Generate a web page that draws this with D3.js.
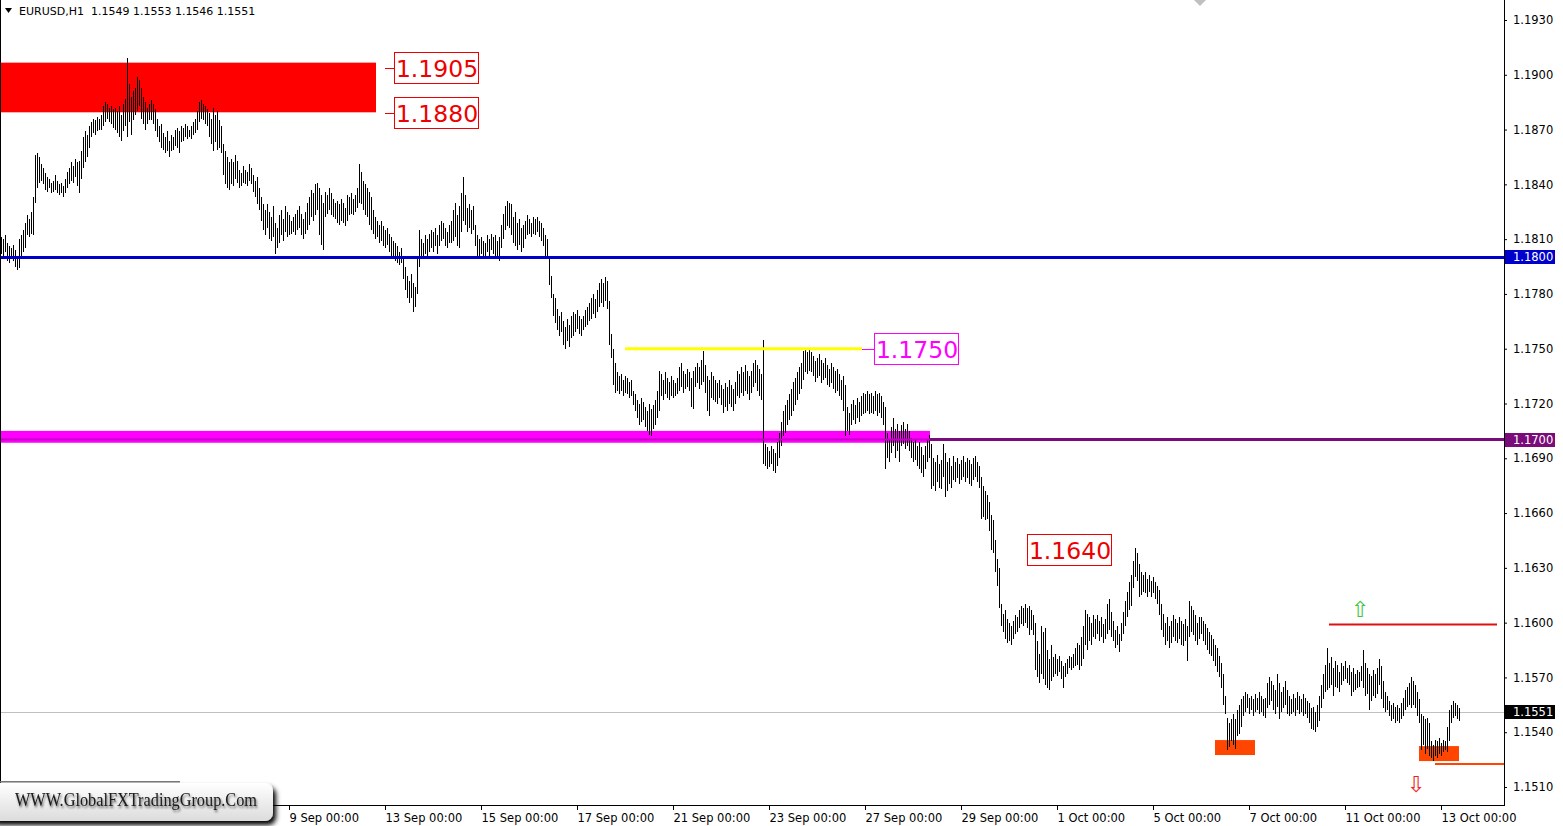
<!DOCTYPE html>
<html><head><meta charset="utf-8">
<script src="https://cdn.jsdelivr.net/npm/d3@7"></script>
<style>
html,body{margin:0;padding:0;background:#fff;overflow:hidden}
svg{display:block}
</style></head><body>
<svg id="c" width="1563" height="826"></svg>
<script>
// ---------------- DATA ----------------
const symbolTitle = "EURUSD,H1";
const lastOHLC = [1.1549, 1.1553, 1.1546, 1.1551];
const dateLabels = ["9 Sep 00:00","13 Sep 00:00","15 Sep 00:00","17 Sep 00:00","21 Sep 00:00","23 Sep 00:00","27 Sep 00:00","29 Sep 00:00","1 Oct 00:00","5 Oct 00:00","7 Oct 00:00","11 Oct 00:00","13 Oct 00:00"];
const firstLabelBar = 144;
const barsPerLabel = 48;
const priceTicks = [1.1510,1.1540,1.1570,1.1600,1.1630,1.1660,1.1690,1.1720,1.1750,1.1780,1.1810,1.1840,1.1870,1.1900,1.1930];
const resistanceZone = [1.1880, 1.1905];
const blueLevel = 1.1800;
const yellowLevel = 1.1750;
const purpleLevel = 1.1700;
const magentaZone = [1.16985, 1.17050];
const tag1640 = 1.1640;
const upperTrigger = 1.1599;
const lowerTrigger = 1.15226;
const orangeZone1 = [1.15275, 1.15357];
const orangeZone2 = [1.15242, 1.15324];
const tagTexts = ["1.1905","1.1880","1.1750","1.1640"];
const watermark = "WWW.GlobalFXTradingGroup.Com";
// hourly bars [high, low]
const hourlyHighLow = [
[1.1811,1.1802],[1.1810,1.1800],[1.1812,1.1803],[1.1808,1.1798],[1.1806,1.1797],
[1.1805,1.1799],[1.1807,1.1798],[1.1804,1.1795],[1.1800,1.1793],[1.1810,1.1794],
[1.1812,1.1799],[1.1815,1.1803],[1.1819,1.1805],[1.1823,1.1812],[1.1821,1.1811],
[1.1825,1.1813],[1.1833,1.1812],[1.1856,1.1830],[1.1857,1.1838],[1.1855,1.1841],
[1.1851,1.1842],[1.1849,1.1840],[1.1846,1.1837],[1.1844,1.1836],[1.1843,1.1838],
[1.1841,1.1835],[1.1842,1.1836],[1.1845,1.1837],[1.1842,1.1835],[1.1840,1.1834],
[1.1841,1.1835],[1.1839,1.1833],[1.1843,1.1835],[1.1847,1.1838],[1.1849,1.1840],
[1.1852,1.1842],[1.1850,1.1841],[1.1854,1.1844],[1.1852,1.1839],[1.1853,1.1835],
[1.1858,1.1843],[1.1866,1.1849],[1.1869,1.1852],[1.1867,1.1855],[1.1872,1.1860],
[1.1874,1.1866],[1.1876,1.1868],[1.1875,1.1867],[1.1877,1.1869],[1.1876,1.1870],
[1.1878,1.1870],[1.1883,1.1872],[1.1885,1.1874],[1.1884,1.1876],[1.1882,1.1874],
[1.1883,1.1873],[1.1881,1.1871],[1.1882,1.1870],[1.1880,1.1868],[1.1883,1.1866],
[1.1878,1.1864],[1.1884,1.1869],[1.1887,1.1872],[1.1909,1.1866],[1.1895,1.1874],
[1.1888,1.1867],[1.1891,1.1875],[1.1893,1.1878],[1.1899,1.1880],[1.1897,1.1883],
[1.1893,1.1876],[1.1888,1.1873],[1.1885,1.1870],[1.1882,1.1873],[1.1884,1.1875],
[1.1886,1.1875],[1.1884,1.1873],[1.1881,1.1869],[1.1876,1.1866],[1.1872,1.1863],
[1.1873,1.1860],[1.1868,1.1859],[1.1866,1.1857],[1.1869,1.1858],[1.1864,1.1855],
[1.1867,1.1858],[1.1866,1.1859],[1.1870,1.1861],[1.1871,1.1860],[1.1869,1.1857],
[1.1872,1.1863],[1.1871,1.1864],[1.1873,1.1866],[1.1872,1.1865],[1.1870,1.1866],
[1.1872,1.1865],[1.1874,1.1867],[1.1876,1.1868],[1.1880,1.1870],[1.1885,1.1874],
[1.1886,1.1876],[1.1884,1.1875],[1.1883,1.1873],[1.1881,1.1872],[1.1879,1.1866],
[1.1876,1.1862],[1.1882,1.1858],[1.1878,1.1863],[1.1880,1.1859],[1.1875,1.1860],
[1.1872,1.1857],[1.1862,1.1845],[1.1858,1.1840],[1.1855,1.1838],[1.1852,1.1837],
[1.1854,1.1840],[1.1852,1.1839],[1.1856,1.1843],[1.1853,1.1841],[1.1848,1.1838],
[1.1846,1.1839],[1.1850,1.1841],[1.1848,1.1840],[1.1847,1.1839],[1.1851,1.1842],
[1.1849,1.1840],[1.1845,1.1836],[1.1842,1.1833],[1.1844,1.1829],[1.1838,1.1826],
[1.1833,1.1820],[1.1829,1.1815],[1.1826,1.1812],[1.1829,1.1816],[1.1825,1.1810],
[1.1822,1.1809],[1.1828,1.1811],[1.1819,1.1802],[1.1816,1.1805],[1.1823,1.1808],
[1.1826,1.1812],[1.1821,1.1809],[1.1828,1.1814],[1.1825,1.1811],[1.1823,1.1812],
[1.1820,1.1813],[1.1822,1.1814],[1.1824,1.1812],[1.1826,1.1815],[1.1828,1.1816],
[1.1824,1.1812],[1.1821,1.1810],[1.1825,1.1813],[1.1830,1.1815],[1.1833,1.1818],
[1.1837,1.1822],[1.1835,1.1820],[1.1840,1.1823],[1.1841,1.1826],[1.1838,1.1812],
[1.1834,1.1807],[1.1830,1.1804],[1.1836,1.1822],[1.1834,1.1824],[1.1838,1.1826],
[1.1835,1.1823],[1.1832,1.1822],[1.1830,1.1821],[1.1831,1.1819],[1.1829,1.1818],
[1.1832,1.1820],[1.1830,1.1819],[1.1827,1.1817],[1.1834,1.1820],[1.1833,1.1823],
[1.1835,1.1824],[1.1832,1.1823],[1.1834,1.1825],[1.1838,1.1827],[1.1851,1.1830],
[1.1847,1.1829],[1.1842,1.1826],[1.1840,1.1823],[1.1838,1.1822],[1.1836,1.1818],
[1.1833,1.1815],[1.1826,1.1813],[1.1822,1.1810],[1.1820,1.1811],[1.1818,1.1808],
[1.1820,1.1809],[1.1817,1.1806],[1.1815,1.1805],[1.1816,1.1807],[1.1813,1.1803],
[1.1811,1.1801],[1.1809,1.1800],[1.1808,1.1798],[1.1806,1.1797],[1.1803,1.1796],
[1.1805,1.1797],[1.1800,1.1788],[1.1795,1.1782],[1.1790,1.1778],[1.1787,1.1775],
[1.1791,1.1778],[1.1786,1.1770],[1.1784,1.1773],[1.1800,1.1780],[1.1815,1.1795],
[1.1810,1.1800],[1.1808,1.1799],[1.1812,1.1802],[1.1810,1.1801],[1.1813,1.1803],
[1.1815,1.1805],[1.1814,1.1803],[1.1816,1.1806],[1.1812,1.1802],[1.1818,1.1806],
[1.1820,1.1809],[1.1819,1.1810],[1.1816,1.1806],[1.1814,1.1805],[1.1818,1.1808],
[1.1820,1.1808],[1.1826,1.1809],[1.1830,1.1811],[1.1823,1.1806],[1.1828,1.1805],
[1.1835,1.1814],[1.1844,1.1820],[1.1834,1.1818],[1.1827,1.1814],[1.1829,1.1816],
[1.1826,1.1813],[1.1828,1.1815],[1.1818,1.1806],[1.1812,1.1801],[1.1810,1.1800],
[1.1811,1.1802],[1.1809,1.1800],[1.1808,1.1801],[1.1812,1.1803],[1.1810,1.1800],
[1.1813,1.1804],[1.1811,1.1802],[1.1812,1.1801],[1.1809,1.1799],[1.1811,1.1798],
[1.1818,1.1805],[1.1824,1.1810],[1.1828,1.1815],[1.1831,1.1817],[1.1830,1.1816],
[1.1829,1.1812],[1.1822,1.1808],[1.1825,1.1806],[1.1819,1.1804],[1.1821,1.1807],
[1.1816,1.1803],[1.1818,1.1805],[1.1820,1.1810],[1.1823,1.1812],[1.1821,1.1813],
[1.1819,1.1811],[1.1822,1.1813],[1.1821,1.1812],[1.1822,1.1814],[1.1820,1.1811],
[1.1819,1.1809],[1.1816,1.1806],[1.1812,1.1800],[1.1810,1.1799],[1.1799,1.1785],
[1.1790,1.1778],[1.1780,1.1768],[1.1778,1.1764],[1.1772,1.1760],[1.1768,1.1757],
[1.1770,1.1759],[1.1765,1.1752],[1.1762,1.1750],[1.1766,1.1754],[1.1763,1.1751],
[1.1768,1.1756],[1.1770,1.1757],[1.1769,1.1759],[1.1771,1.1761],[1.1768,1.1758],
[1.1766,1.1757],[1.1768,1.1760],[1.1771,1.1762],[1.1773,1.1763],[1.1775,1.1765],
[1.1778,1.1766],[1.1780,1.1769],[1.1777,1.1767],[1.1782,1.1770],[1.1786,1.1773],
[1.1788,1.1775],[1.1786,1.1773],[1.1789,1.1776],[1.1787,1.1772],[1.1776,1.1752],
[1.1758,1.1745],[1.1750,1.1730],[1.1742,1.1726],[1.1737,1.1727],[1.1735,1.1725],
[1.1736,1.1727],[1.1733,1.1724],[1.1735,1.1726],[1.1734,1.1725],[1.1732,1.1723],
[1.1733,1.1724],[1.1727,1.1719],[1.1725,1.1716],[1.1722,1.1712],[1.1720,1.1708],
[1.1723,1.1710],[1.1721,1.1711],[1.1718,1.1707],[1.1716,1.1705],[1.1720,1.1703],
[1.1717,1.1702],[1.1719,1.1706],[1.1722,1.1708],[1.1727,1.1712],[1.1738,1.1716],
[1.1736,1.1724],[1.1733,1.1722],[1.1737,1.1725],[1.1734,1.1723],[1.1732,1.1722],
[1.1735,1.1724],[1.1733,1.1723],[1.1731,1.1724],[1.1734,1.1725],[1.1740,1.1727],
[1.1742,1.1729],[1.1738,1.1726],[1.1736,1.1728],[1.1739,1.1729],[1.1737,1.1727],
[1.1734,1.1718],[1.1738,1.1717],[1.1740,1.1729],[1.1742,1.1731],[1.1740,1.1728],
[1.1744,1.1730],[1.1749,1.1732],[1.1741,1.1726],[1.1735,1.1716],[1.1733,1.1713],
[1.1737,1.1723],[1.1735,1.1722],[1.1733,1.1721],[1.1731,1.1720],[1.1733,1.1723],
[1.1730,1.1719],[1.1728,1.1715],[1.1731,1.1718],[1.1729,1.1716],[1.1733,1.1720],
[1.1730,1.1718],[1.1728,1.1716],[1.1732,1.1720],[1.1738,1.1724],[1.1736,1.1723],
[1.1740,1.1726],[1.1737,1.1724],[1.1741,1.1727],[1.1738,1.1725],[1.1735,1.1722],
[1.1738,1.1726],[1.1742,1.1729],[1.1744,1.1731],[1.1741,1.1727],[1.1739,1.1724],
[1.1736,1.1722],[1.1755,1.1687],[1.1698,1.1686],[1.1696,1.1684],[1.1694,1.1685],
[1.1697,1.1687],[1.1695,1.1683],[1.1693,1.1682],[1.1699,1.1686],[1.1704,1.1690],
[1.1710,1.1697],[1.1716,1.1702],[1.1719,1.1704],[1.1722,1.1708],[1.1725,1.1711],
[1.1728,1.1713],[1.1732,1.1716],[1.1734,1.1719],[1.1737,1.1722],[1.1740,1.1725],
[1.1742,1.1728],[1.1749,1.1733],[1.1750,1.1737],[1.1748,1.1736],[1.1750,1.1738],
[1.1748,1.1737],[1.1746,1.1735],[1.1743,1.1732],[1.1745,1.1734],[1.1747,1.1735],
[1.1744,1.1731],[1.1742,1.1733],[1.1745,1.1734],[1.1741,1.1730],[1.1739,1.1729],
[1.1742,1.1731],[1.1740,1.1728],[1.1738,1.1726],[1.1739,1.1727],[1.1736,1.1724],
[1.1733,1.1722],[1.1735,1.1716],[1.1730,1.1702],[1.1718,1.1705],[1.1715,1.1703],
[1.1720,1.1708],[1.1722,1.1711],[1.1719,1.1709],[1.1723,1.1712],[1.1721,1.1710],
[1.1724,1.1713],[1.1726,1.1714],[1.1725,1.1715],[1.1727,1.1716],[1.1725,1.1714],
[1.1726,1.1715],[1.1724,1.1714],[1.1727,1.1716],[1.1725,1.1713],[1.1726,1.1715],
[1.1724,1.1712],[1.1721,1.1708],[1.1718,1.1684],[1.1704,1.1690],[1.1700,1.1688],
[1.1707,1.1693],[1.1712,1.1697],[1.1706,1.1690],[1.1709,1.1694],[1.1705,1.1688],
[1.1708,1.1697],[1.1710,1.1698],[1.1706,1.1695],[1.1709,1.1697],[1.1705,1.1694],
[1.1701,1.1690],[1.1699,1.1688],[1.1700,1.1689],[1.1697,1.1686],[1.1699,1.1684],
[1.1696,1.1682],[1.1692,1.1680],[1.1697,1.1684],[1.1700,1.1688],[1.1703,1.1690],
[1.1698,1.1673],[1.1690,1.1675],[1.1688,1.1672],[1.1692,1.1677],[1.1687,1.1674],
[1.1689,1.1673],[1.1698,1.1680],[1.1693,1.1669],[1.1688,1.1672],[1.1690,1.1676],
[1.1686,1.1674],[1.1691,1.1678],[1.1688,1.1677],[1.1690,1.1679],[1.1687,1.1676],
[1.1689,1.1678],[1.1691,1.1680],[1.1688,1.1677],[1.1690,1.1679],[1.1689,1.1676],
[1.1687,1.1675],[1.1690,1.1678],[1.1691,1.1680],[1.1688,1.1677],[1.1686,1.1674],
[1.1680,1.1657],[1.1675,1.1658],[1.1672,1.1656],[1.1670,1.1657],[1.1666,1.1650],
[1.1659,1.1640],[1.1656,1.1638],[1.1645,1.1628],[1.1635,1.1620],[1.1630,1.1608],
[1.1610,1.1598],[1.1605,1.1595],[1.1607,1.1591],[1.1602,1.1589],[1.1600,1.1590],
[1.1598,1.1588],[1.1601,1.1591],[1.1604,1.1594],[1.1603,1.1595],[1.1607,1.1597],
[1.1609,1.1599],[1.1608,1.1598],[1.1610,1.1600],[1.1608,1.1597],[1.1609,1.1593],
[1.1607,1.1596],[1.1604,1.1593],[1.1600,1.1574],[1.1590,1.1570],[1.1583,1.1567],
[1.1598,1.1572],[1.1595,1.1569],[1.1597,1.1566],[1.1585,1.1564],[1.1580,1.1563],
[1.1588,1.1568],[1.1581,1.1570],[1.1583,1.1572],[1.1580,1.1571],[1.1582,1.1573],
[1.1579,1.1569],[1.1576,1.1564],[1.1578,1.1570],[1.1580,1.1572],[1.1582,1.1575],
[1.1581,1.1574],[1.1583,1.1575],[1.1586,1.1576],[1.1589,1.1577],[1.1588,1.1574],
[1.1592,1.1576],[1.1598,1.1580],[1.1607,1.1588],[1.1605,1.1585],[1.1603,1.1590],
[1.1600,1.1588],[1.1604,1.1592],[1.1602,1.1591],[1.1604,1.1594],[1.1601,1.1590],
[1.1603,1.1592],[1.1599,1.1589],[1.1602,1.1591],[1.1610,1.1594],[1.1613,1.1596],
[1.1606,1.1592],[1.1601,1.1590],[1.1596,1.1586],[1.1598,1.1588],[1.1594,1.1584],
[1.1600,1.1590],[1.1606,1.1594],[1.1612,1.1598],[1.1617,1.1603],[1.1622,1.1607],
[1.1626,1.1609],[1.1634,1.1619],[1.1641,1.1625],[1.1638,1.1623],[1.1632,1.1614],
[1.1628,1.1615],[1.1626,1.1617],[1.1628,1.1616],[1.1624,1.1614],[1.1626,1.1617],
[1.1623,1.1614],[1.1625,1.1616],[1.1622,1.1613],[1.1620,1.1610],[1.1618,1.1604],
[1.1610,1.1596],[1.1605,1.1592],[1.1600,1.1588],[1.1603,1.1590],[1.1598,1.1586],
[1.1601,1.1589],[1.1604,1.1592],[1.1602,1.1590],[1.1600,1.1589],[1.1603,1.1591],
[1.1601,1.1588],[1.1599,1.1587],[1.1602,1.1590],[1.1598,1.1579],[1.1612,1.1592],
[1.1609,1.1595],[1.1607,1.1593],[1.1604,1.1590],[1.1600,1.1588],[1.1603,1.1591],
[1.1603,1.1594],[1.1601,1.1590],[1.1599,1.1588],[1.1597,1.1585],[1.1595,1.1583],
[1.1593,1.1582],[1.1591,1.1579],[1.1588,1.1576],[1.1586,1.1573],[1.1582,1.1570],
[1.1578,1.1564],[1.1572,1.1555],[1.1560,1.1550],[1.1548,1.1530],[1.1545,1.1532],
[1.1547,1.1535],[1.1550,1.1533],[1.1547,1.1531],[1.1552,1.1538],[1.1555,1.1539],
[1.1558,1.1543],[1.1560,1.1549],[1.1562,1.1551],[1.1561,1.1553],[1.1559,1.1550],
[1.1560,1.1552],[1.1558,1.1549],[1.1561,1.1551],[1.1559,1.1552],[1.1562,1.1550],
[1.1560,1.1551],[1.1558,1.1549],[1.1559,1.1548],[1.1567,1.1553],[1.1570,1.1555],
[1.1568,1.1557],[1.1566,1.1552],[1.1563,1.1550],[1.1572,1.1554],[1.1567,1.1547],
[1.1562,1.1551],[1.1565,1.1553],[1.1568,1.1555],[1.1563,1.1550],[1.1560,1.1549],
[1.1558,1.1550],[1.1561,1.1551],[1.1559,1.1549],[1.1562,1.1552],[1.1560,1.1550],
[1.1558,1.1551],[1.1561,1.1549],[1.1559,1.1550],[1.1557,1.1548],[1.1556,1.1545],
[1.1553,1.1542],[1.1554,1.1541],[1.1551,1.1540],[1.1555,1.1543],[1.1560,1.1546],
[1.1566,1.1553],[1.1572,1.1558],[1.1577,1.1562],[1.1586,1.1563],[1.1578,1.1564],
[1.1581,1.1566],[1.1575,1.1560],[1.1579,1.1565],[1.1577,1.1564],[1.1573,1.1562],
[1.1578,1.1566],[1.1576,1.1568],[1.1579,1.1569],[1.1575,1.1567],[1.1577,1.1566],
[1.1573,1.1560],[1.1575,1.1562],[1.1572,1.1563],[1.1574,1.1564],[1.1573,1.1565],
[1.1576,1.1568],[1.1585,1.1564],[1.1578,1.1560],[1.1575,1.1561],[1.1572,1.1552],
[1.1571,1.1557],[1.1574,1.1560],[1.1572,1.1559],[1.1575,1.1561],[1.1580,1.1566],
[1.1576,1.1558],[1.1568,1.1553],[1.1562,1.1551],[1.1560,1.1552],[1.1557,1.1549],
[1.1555,1.1546],[1.1556,1.1547],[1.1554,1.1545],[1.1555,1.1546],[1.1553,1.1545],
[1.1556,1.1547],[1.1559,1.1549],[1.1563,1.1552],[1.1565,1.1554],[1.1567,1.1555],
[1.1570,1.1553],[1.1568,1.1555],[1.1566,1.1553],[1.1562,1.1549],[1.1558,1.1545],
[1.1550,1.1530],[1.1549,1.1533],[1.1547,1.1528],[1.1548,1.1531],[1.1545,1.1527],
[1.1535,1.1526],[1.1533,1.1524],[1.1536,1.1527],[1.1535,1.1526],[1.1537,1.1528],
[1.1534,1.1527],[1.1536,1.1529],[1.1535,1.1530],[1.1543,1.1529],[1.1552,1.1535],
[1.1555,1.1545],[1.1557,1.1548],[1.1556,1.1549],[1.1555,1.1547],[1.1553,1.1546]
];

// ---------------- RENDER ----------------
const FONT = "'DejaVu Sans', Verdana, sans-serif";
const axisX = 1504, axisY = 805;
const x = d3.scaleLinear().domain([0, hourlyHighLow.length - 1]).range([1, 1459]);
const y = d3.scaleLinear().domain([1.1510, 1.1930]).range([787, 20]);
const svg = d3.select("#c");
const defs = svg.append("defs");

svg.append("rect").attr("width",1563).attr("height",826).attr("fill","#fff");

const plot = svg.append("g");
// background objects
plot.append("rect").attr("x", x(-0.5)).attr("width", x(187.5) - x(-0.5))
  .attr("y", y(resistanceZone[1]) - 3).attr("height", y(resistanceZone[0]) - y(resistanceZone[1]) + 4)
  .attr("fill", "#ff0000");
plot.append("rect").attr("x", x(-0.5)).attr("width", x(464.5) - x(-0.5))
  .attr("y", y(magentaZone[1])).attr("height", y(magentaZone[0]) - y(magentaZone[1]))
  .attr("fill", "#ff00ff");
[[orangeZone1, 607, 627], [orangeZone2, 709, 729]].forEach(([z, a, b]) => {
  plot.append("rect").attr("x", x(a)).attr("width", x(b) - x(a))
    .attr("y", y(z[1])).attr("height", y(z[0]) - y(z[1])).attr("fill", "#ff4500");
});
// current price line
plot.append("line").attr("x1", 0).attr("x2", axisX).attr("y1", Math.round(y(lastOHLC[3])) + 0.5)
  .attr("y2", Math.round(y(lastOHLC[3])) + 0.5).attr("stroke", "#c0c0c0").attr("stroke-width", 1);

// bars
plot.append("g").attr("shape-rendering", "crispEdges")
  .selectAll("line").data(hourlyHighLow).join("line")
  .attr("x1", (d, i) => Math.round(x(i)) + 0.5).attr("x2", (d, i) => Math.round(x(i)) + 0.5)
  .attr("y1", d => Math.round(y(d[0]))).attr("y2", d => Math.max(Math.round(y(d[1])), Math.round(y(d[0])) + 1))
  .attr("stroke", "#000").attr("stroke-width", 1);

// foreground lines
const hline = (p, x1, x2, color, w) => plot.append("line").attr("x1", x1).attr("x2", x2)
  .attr("y1", y(p)).attr("y2", y(p)).attr("stroke", color).attr("stroke-width", w);
hline(blueLevel, 0, axisX, "#0000cd", 3);
hline(purpleLevel + 0.00003, x(464.5), axisX, "#7b0a7b", 3);
plot.append("line").attr("x1", 0).attr("x2", x(464.5)).attr("y1", y(purpleLevel + 0.00003)).attr("y2", y(purpleLevel + 0.00003))
  .attr("stroke", "#c400c4").attr("stroke-width", 2);
hline(yellowLevel, x(312), x(430.5), "#ffff00", 3);
hline(upperTrigger, x(664), x(748), "#dd1111", 2);
hline(lowerTrigger, x(717), axisX, "#ff4500", 2);

// tags
function tag(xl, price, text, color, tickFrom, off) {
  const yc = y(price) + off;
  const g = plot.append("g");
  g.append("line").attr("x1", tickFrom).attr("x2", tickFrom < xl ? xl : xl + 84)
    .attr("y1", Math.round(yc) + 0.5).attr("y2", Math.round(yc) + 0.5).attr("stroke", color).attr("stroke-width", 1);
  g.append("rect").attr("x", Math.round(xl) + 0.5).attr("y", Math.round(yc - 16) + 0.5).attr("width", 84).attr("height", 31)
    .attr("fill", "#fff").attr("stroke", color).attr("stroke-width", 1);
  g.append("text").attr("x", xl + 43).attr("y", yc + 9).attr("text-anchor", "middle")
    .attr("font-family", FONT).attr("font-size", 23.5).attr("fill", color).text(text);
}
tag(x(196.5), resistanceZone[1], tagTexts[0], "#ee0000", x(192), 2);
tag(x(196.5), resistanceZone[0], tagTexts[1], "#ee0000", x(192), 2);
tag(x(436.5), yellowLevel, tagTexts[2], "#ff00ff", x(430.5), 0);
tag(x(513), tag1640, tagTexts[3], "#ee0000", x(518), 0);

// arrows
plot.append("text").attr("x", x(679.5)).attr("y", y(upperTrigger) - 7).attr("text-anchor", "middle")
  .attr("font-family", FONT).attr("font-size", 22).attr("fill", "#3ec43e").text("\u21e7");
plot.append("text").attr("x", x(707.5)).attr("y", y(lowerTrigger) + 28).attr("text-anchor", "middle")
  .attr("font-family", FONT).attr("font-size", 22).attr("fill", "#ee2222").text("\u21e9");

// chart shift marker
plot.append("path").attr("d", `M${x(599.5)-6},0 L${x(599.5)+6},0 L${x(599.5)},6 Z`).attr("fill", "#c0c0c0");

// header
svg.append("path").attr("d", "M5,8 L12,8 L8.5,13 Z").attr("fill", "#000");
svg.append("text").attr("x", 19).attr("y", 15).attr("font-family", FONT).attr("font-size", 11).attr("fill", "#000")
  .attr("xml:space", "preserve")
  .text(symbolTitle + "  " + lastOHLC.map(v => v.toFixed(4)).join(" "));

// frame / axes
svg.append("line").attr("x1", 0.5).attr("x2", 0.5).attr("y1", 0).attr("y2", axisY).attr("stroke", "#000");
svg.append("line").attr("x1", axisX + 0.5).attr("x2", axisX + 0.5).attr("y1", 0).attr("y2", axisY + 1).attr("stroke", "#000");
svg.append("line").attr("x1", 0).attr("x2", axisX + 1).attr("y1", axisY + 0.5).attr("y2", axisY + 0.5).attr("stroke", "#000");

const yAxis = svg.append("g").attr("transform", `translate(${axisX},0)`)
  .call(d3.axisRight(y).tickValues(priceTicks).tickFormat(d3.format(".4f")).tickSize(3).tickPadding(6));
yAxis.select(".domain").remove();
yAxis.selectAll("text").attr("font-family", FONT).attr("font-size", 11.5).attr("fill", "#000");
yAxis.selectAll("line").attr("stroke", "#000");

// axis price boxes
function axisBox(price, bg) {
  const yc = y(price);
  svg.append("rect").attr("x", axisX + 1).attr("y", Math.round(yc) - 7).attr("width", 50).attr("height", 14).attr("fill", bg);
  svg.append("text").attr("x", axisX + 9).attr("y", yc).attr("dy", "0.32em").attr("font-family", FONT)
    .attr("font-size", 11.5).attr("fill", "#fff").text(price.toFixed(4));
}
axisBox(blueLevel, "#0000cd");
axisBox(purpleLevel, "#7b0a7b");
axisBox(lastOHLC[3], "#000");

const xAxis = svg.append("g");
dateLabels.forEach((lab, k) => {
  const px = Math.round(x(firstLabelBar + k * barsPerLabel)) + 0.5;
  xAxis.append("line").attr("x1", px).attr("x2", px).attr("y1", axisY).attr("y2", axisY + 5).attr("stroke", "#000");
  xAxis.append("text").attr("x", px).attr("y", 822).attr("font-family", FONT).attr("font-size", 11.5)
    .attr("fill", "#000").text(lab);
});

// watermark
const grad = defs.append("linearGradient").attr("id", "wg").attr("x1", 0).attr("x2", 0).attr("y1", 0).attr("y2", 1);
grad.append("stop").attr("offset", 0).attr("stop-color", "#ffffff");
grad.append("stop").attr("offset", 1).attr("stop-color", "#dcdcdc");
const sh = defs.append("filter").attr("id", "sh").attr("x", "-10%").attr("y", "-30%").attr("width", "130%").attr("height", "180%");
sh.append("feDropShadow").attr("dx", 3).attr("dy", 4).attr("stdDeviation", 2.5).attr("flood-color", "#000").attr("flood-opacity", 1);
const tsh = defs.append("filter").attr("id", "tsh").attr("x", "-5%").attr("y", "-30%").attr("width", "110%").attr("height", "170%");
tsh.append("feDropShadow").attr("dx", 1).attr("dy", 2).attr("stdDeviation", 1.2).attr("flood-color", "#000").attr("flood-opacity", 0.6);
svg.append("rect").attr("x", 0).attr("y", 781).attr("width", 180).attr("height", 1.5).attr("fill", "#777");
svg.append("rect").attr("x", -12).attr("y", 783).attr("width", 285).attr("height", 38).attr("rx", 8)
  .attr("fill", "url(#wg)").attr("filter", "url(#sh)");
svg.append("text").attr("x", 15).attr("y", 806).attr("font-family", "'Liberation Serif', 'Times New Roman', serif")
  .attr("font-size", 19).attr("fill", "#1a1a1a").attr("textLength", 242).attr("lengthAdjust", "spacingAndGlyphs")
  .attr("filter", "url(#tsh)").text(watermark);
</script>
</body></html>
